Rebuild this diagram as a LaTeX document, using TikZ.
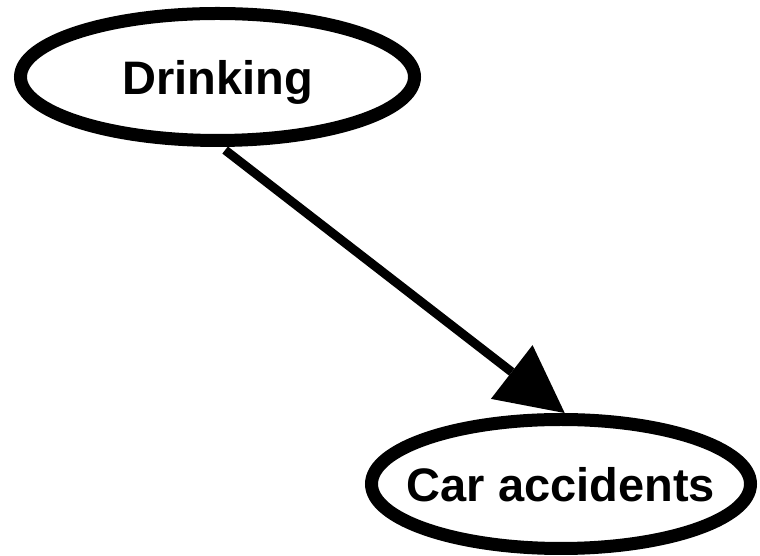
\documentclass[tikz,border=0pt]{standalone}
\usepackage{fontspec}
\setmainfont{Liberation Sans}
\usetikzlibrary{arrows.meta,shapes.geometric}
\tikzset{
  causenode/.style={draw,ellipse,line width=13pt,inner sep=0pt,text depth=0pt,font=\bfseries\fontsize{47}{56}\selectfont},
  causearrow/.style={line width=9pt,-{Triangle[length=67pt,width=68pt,line width=0pt]}}
}
\begin{document}
\begin{tikzpicture}[x=1pt,y=1pt]
  \useasboundingbox (0,0) rectangle (760,556);
  % nodi
  \node [causenode,minimum width=394pt,minimum height=127pt] (drinking) at (217.5,479) {\makebox[0pt]{Drinking}};
  \node [causenode,minimum width=379pt,minimum height=129pt] (accidents) at (561,72) {\makebox[0pt]{Car accidents}};
  % freccia
  \draw [causearrow,shorten <=5pt] (drinking.-87) -- (accidents.87);
\end{tikzpicture}
\end{document}
